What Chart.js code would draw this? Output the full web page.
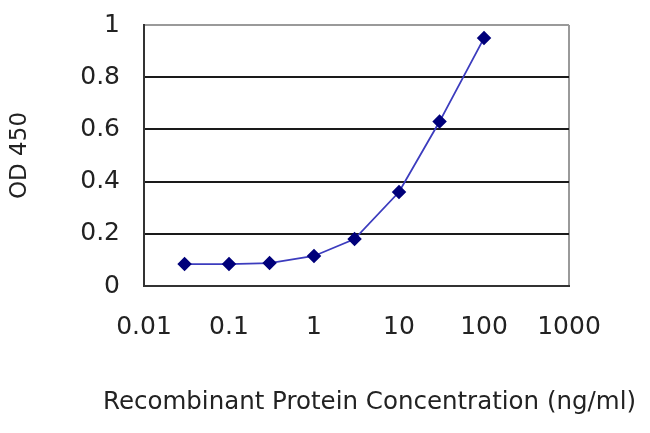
<!DOCTYPE html>
<html>
<head>
<meta charset="utf-8">
<script src="https://cdn.jsdelivr.net/npm/chart.js@4"></script>
<style>
    html, body { margin: 0; padding: 0; background: #fff; }
    #wrap { width: 650px; height: 433px; }
</style>
</head>
<body>
<div id="wrap"><canvas id="odChart" width="650" height="433"></canvas></div>
<script>
// values
const concentrations = [0.03, 0.1, 0.3, 1, 3, 10, 30, 100];
const od450 = [0.084, 0.084, 0.088, 0.115, 0.18, 0.36, 0.63, 0.95];
const xTickValues = [0.01, 0.1, 1, 10, 100, 1000];
const xTickLabels = ["0.01", "0.1", "1", "10", "100", "1000"];
const yTickValues = [0, 0.2, 0.4, 0.6, 0.8, 1];
const yTickLabels = ["0", "0.2", "0.4", "0.6", "0.8", "1"];
const xAxisTitle = "Recombinant Protein Concentration (ng/ml)";
const yAxisTitle = "OD 450";

const labelFont = { family: "DejaVu Sans", size: 25 };
const textColor = "#222";

// the x title is wider than the plot, so the scale title would squeeze it
const xTitlePlugin = {
    id: "xTitle",
    afterDraw(chart) {
        const ctx = chart.ctx;
        const area = chart.chartArea;
        ctx.save();
        ctx.font = "24.5px 'DejaVu Sans'";
        ctx.fillStyle = textColor;
        ctx.textAlign = "center";
        ctx.textBaseline = "middle";
        ctx.fillText(xAxisTitle, (area.left + area.right) / 2 + 13, 403);
        ctx.restore();
    },
};

function drawChart() {
    const ctx = document.getElementById("odChart").getContext("2d");
    new Chart(ctx, {
        type: "line",
        data: {
            datasets: [
                {
                    label: yAxisTitle,
                    data: concentrations.map((c, i) => ({ x: c, y: od450[i] })),
                    borderColor: "#3c3cbe",
                    borderWidth: 1.8,
                    tension: 0,
                    pointStyle: "rectRot",
                    pointRadius: 6,
                    pointBackgroundColor: "#00007a",
                    pointBorderColor: "#00007a",
                },
            ],
        },
        plugins: [xTitlePlugin],
        options: {
            responsive: false,
            animation: false,
            layout: { padding: { top: 25, right: 81, left: 0, bottom: 0 } },
            plugins: {
                legend: { display: false },
                tooltip: { enabled: false },
            },
            scales: {
                x: {
                    type: "logarithmic",
                    min: 0.01,
                    max: 1000,
                    afterBuildTicks: (scale) => {
                        scale.ticks = xTickValues.map((v) => ({ value: v }));
                    },
                    afterFit: (scale) => {
                        scale.height = 147;
                        scale.paddingLeft = 0;
                        scale.paddingRight = 0;
                    },
                    ticks: {
                        autoSkip: false,
                        maxRotation: 0,
                        padding: 26,
                        color: textColor,
                        font: labelFont,
                        callback: (value) => {
                            const idx = xTickValues.indexOf(value);
                            return idx >= 0 ? xTickLabels[idx] : null;
                        },
                    },
                    grid: {
                        drawTicks: false,
                        lineWidth: 2,
                        color: (c) => (c.tick && c.tick.value === 1000 ? "#9a9a9a" : "rgba(0,0,0,0)"),
                    },
                    border: { color: "#333", width: 2 },
                },
                y: {
                    min: 0,
                    max: 1,
                    afterBuildTicks: (scale) => {
                        scale.ticks = yTickValues.map((v) => ({ value: v }));
                    },
                    afterFit: (scale) => {
                        scale.width = 144;
                        scale.paddingTop = 0;
                        scale.paddingBottom = 0;
                    },
                    ticks: {
                        padding: 24,
                        color: textColor,
                        font: labelFont,
                        callback: (value) => {
                            const idx = yTickValues.indexOf(value);
                            return idx >= 0 ? yTickLabels[idx] : null;
                        },
                    },
                    grid: {
                        drawTicks: false,
                        lineWidth: 2,
                        color: (c) => {
                            if (!c.tick) return "rgba(0,0,0,0)";
                            if (c.tick.value === 0) return "rgba(0,0,0,0)";
                            if (c.tick.value === 1) return "#9a9a9a";
                            return "#1a1a1a";
                        },
                    },
                    border: { color: "#333", width: 2 },
                    title: {
                        display: true,
                        text: yAxisTitle,
                        color: textColor,
                        font: { family: "DejaVu Sans", size: 23 },
                        padding: { top: 6, bottom: 0 },
                    },
                },
            },
        },
    });
}

document.addEventListener("DOMContentLoaded", () => {
    drawChart();
});
</script>
</body>
</html>
